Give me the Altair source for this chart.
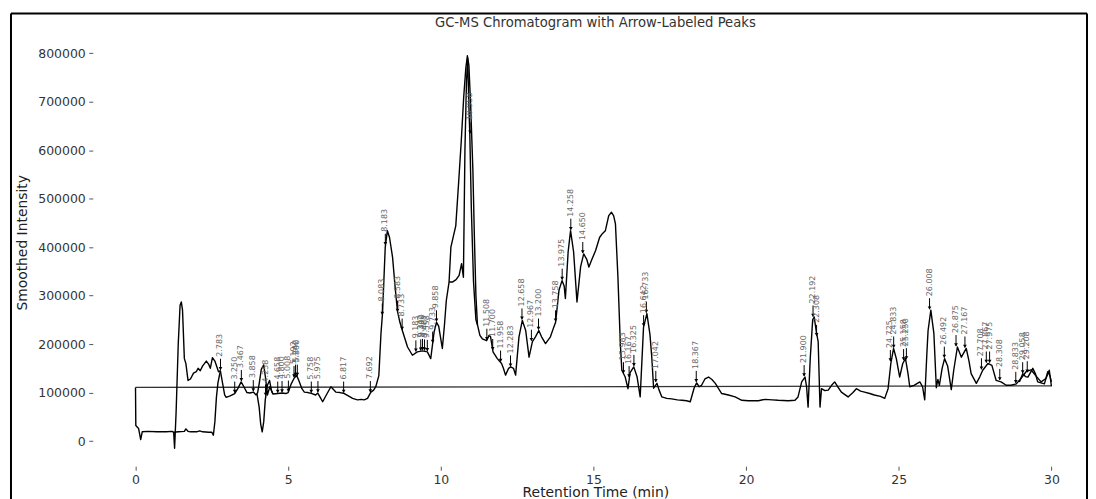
import altair as alt
import pandas as pd

# ---------------- data ----------------
main_t = [0.00, 0.01, 0.10, 0.17, 0.22, 0.40, 0.70, 1.00, 1.20, 1.25, 1.28, 1.33, 1.40, 1.46, 1.50,
          1.54, 1.60, 1.65, 1.72, 1.80, 1.90, 1.99, 2.05, 2.12, 2.20, 2.32, 2.40, 2.45, 2.52, 2.60,
          2.68, 2.72, 2.78, 2.85, 2.92, 2.97, 3.10, 3.25, 3.35, 3.46, 3.55, 3.65, 3.75, 3.86, 3.95,
          4.00, 4.05, 4.12, 4.20, 4.26, 4.32, 4.40, 4.50, 4.66, 4.80, 4.92, 5.00, 5.10, 5.20, 5.28,
          5.35, 5.45, 5.53, 5.65, 5.78, 5.90, 5.97, 6.05, 6.13, 6.25, 6.40, 6.56, 6.70, 6.84, 7.00,
          7.11, 7.27, 7.40, 7.49, 7.60, 7.70, 7.80, 7.87, 7.97, 8.04, 8.09, 8.18, 8.25, 8.32, 8.42,
          8.50, 8.58, 8.66, 8.75, 8.91, 9.07, 9.23, 9.40, 9.56, 9.67, 9.78, 9.86, 9.93, 10.05, 10.12,
          10.18, 10.27, 10.33, 10.42, 10.49, 10.58, 10.67, 10.75, 10.82, 10.87, 10.92, 10.98, 11.05,
          11.10, 11.15, 11.20, 11.28, 11.36, 11.50, 11.58, 11.63, 11.71, 11.85, 11.99, 12.05, 12.12,
          12.22, 12.29, 12.38, 12.45, 12.56, 12.67, 12.78, 12.89, 13.00, 13.10, 13.21, 13.30, 13.43,
          13.59, 13.70, 13.76, 13.87, 13.97, 14.04, 14.08, 14.17, 14.25, 14.35, 14.46, 14.58, 14.68,
          14.78, 14.85, 14.95, 15.07, 15.20, 15.28, 15.39, 15.50, 15.59, 15.66, 15.72, 15.80, 15.88,
          15.93, 16.04, 16.13, 16.20, 16.32, 16.43, 16.53, 16.64, 16.75, 16.85, 16.91, 16.97, 17.08,
          17.15, 17.24, 17.40, 17.56, 17.75, 17.90, 18.05, 18.17, 18.30, 18.38, 18.46, 18.54, 18.65,
          18.77, 18.88, 18.99, 19.20, 19.42, 19.64, 19.86, 20.07, 20.40, 20.62, 20.85, 21.05, 21.38,
          21.60, 21.70, 21.82, 21.93, 21.98, 22.03, 22.10, 22.18, 22.23, 22.30, 22.36, 22.42, 22.47,
          22.58, 22.69, 22.80, 22.90, 23.00, 23.12, 23.34, 23.50, 23.61, 23.75, 23.88, 24.05, 24.20,
          24.40, 24.54, 24.65, 24.74, 24.83, 24.92, 25.03, 25.13, 25.22, 25.30, 25.36, 25.50, 25.69,
          25.78, 25.85, 25.92, 25.96, 26.05, 26.15, 26.23, 26.28, 26.33, 26.42, 26.50, 26.60, 26.72,
          26.80, 26.92, 27.05, 27.21, 27.30, 27.37, 27.54, 27.65, 27.75, 27.92, 28.05, 28.19, 28.35,
          28.52, 28.68, 28.85, 29.00, 29.17, 29.33, 29.50, 29.66, 29.82, 29.93, 30.00]
main_i = [110500, 32000, 26000, 3000, 19000, 20000, 19000, 19000, 20000, 18000, -15000, 60000, 200000, 280000, 287000,
          270000, 170000, 160000, 125000, 128000, 140000, 143000, 150000, 145000, 155000, 165000, 158000, 150000, 172000, 165000,
          150000, 143000, 145000, 120000, 95000, 90000, 93000, 98000, 108000, 122000, 112000, 100000, 99000, 101000, 95000,
          100000, 118000, 148000, 157000, 130000, 95000, 112000, 97000, 98000, 99000, 98000, 100000, 118000, 130000, 135000,
          125000, 108000, 101000, 100000, 98000, 95000, 99000, 90000, 81000, 95000, 112000, 101000, 100000, 98000, 92000,
          88000, 85000, 86000, 85000, 88000, 100000, 105000, 112000, 135000, 222000, 263000, 400000, 434000, 420000, 379000,
          320000, 268000, 245000, 226000, 194000, 177000, 184000, 186000, 184000, 170000, 225000, 245000, 237000, 191000, 240000,
          290000, 328000, 400000, 425000, 444000, 530000, 619000, 710000, 770000, 795000, 775000, 688000, 560000,
          420000, 300000, 240000, 218000, 211000, 207000, 218000, 215000, 184000, 170000, 160000, 150000, 136000,
          150000, 153000, 150000, 136000, 215000, 249000, 228000, 173000, 205000, 215000, 228000, 215000, 201000,
          215000, 235000, 245000, 311000, 331000, 320000, 294000, 390000, 434000, 390000, 287000, 360000, 386000,
          375000, 359000, 375000, 393000, 420000, 427000, 434000, 465000, 472000, 465000, 448000, 340000, 200000,
          146000, 132000, 108000, 141000, 153000, 132000, 91000, 235000, 263000, 220000, 173000, 109000, 119000,
          105000, 91000, 88000, 87000, 85000, 84000, 83000, 81000, 110000, 120000, 112000, 115000, 128000,
          132000, 127000, 119000, 98000, 95000, 91000, 84000, 83000, 83000, 86000, 85000, 84000, 83000,
          84000, 91000, 122000, 132000, 112000, 70000, 170000, 250000, 256000, 225000, 205000, 70000, 108000,
          104000, 105000, 115000, 122000, 112000, 101000, 91000, 100000, 108000, 103000, 101000, 98000, 95000,
          92000, 88000, 108000, 160000, 191000, 170000, 132000, 160000, 170000, 140000, 112000, 115000, 122000,
          112000, 85000, 180000, 228000, 270000, 222000, 110000, 127000, 115000, 150000, 170000, 155000, 106000,
          146000, 194000, 173000, 191000, 165000, 139000, 119000, 132000, 146000, 160000, 156000, 125000, 122000,
          115000, 115000, 118000, 129000, 143000, 147000, 134000, 122000, 129000, 146000, 113000]

# second trace where it departs from the first
low_t = [1.25, 1.40, 1.60, 1.65, 1.72, 1.80, 2.00, 2.10, 2.20, 2.40, 2.50, 2.55, 2.60, 2.65, 2.70, 2.78]
low_i = [18000, 19000, 20000, 25000, 20000, 19000, 19000, 21000, 19000, 18000, 18000, 12000, 40000, 90000, 120000, 145000]

dip_t = [3.98, 4.05, 4.10, 4.15, 4.20, 4.25, 4.32, 4.39, 4.45, 4.50]
dip_i = [97000, 70000, 35000, 19000, 40000, 85000, 115000, 125000, 105000, 97000]

inner_t = [10.27, 10.38, 10.50, 10.60, 10.68, 10.74, 10.79, 10.84, 10.88, 10.92, 10.95, 11.00, 11.07, 11.15, 11.20]
inner_i = [328000, 328000, 333000, 342000, 366000, 338000, 600000, 740000, 790000, 690000, 633000, 480000, 330000, 250000, 240000]

tail_t = [28.95, 29.06, 29.15, 29.23, 29.39, 29.48, 29.55, 29.66, 29.77, 29.88, 29.95, 30.00]
tail_i = [122000, 139000, 133000, 132000, 150000, 138000, 122000, 120000, 118000, 143000, 135000, 122000]

base_t = [0.0, 30.0]
base_i = [110500, 113800]

peak_t = [2.783, 3.250, 3.467, 3.858, 4.258, 4.658, 4.800, 5.008, 5.192, 5.242, 5.300, 5.758, 5.975,
          6.817, 7.692, 8.083, 8.183, 8.583, 8.733, 9.183, 9.342, 9.400, 9.467, 9.558, 9.733, 9.858,
          10.958, 11.508, 11.700, 11.958, 12.283, 12.658, 12.967, 13.200, 13.758, 13.975, 14.258,
          14.650, 15.983, 16.167, 16.325, 16.642, 16.733, 17.042, 18.367, 21.900, 22.192, 22.308,
          24.725, 24.833, 25.158, 25.250, 26.008, 26.492, 26.875, 27.167, 27.708, 27.867, 27.975,
          28.308, 28.833, 29.058, 29.208]
peak_i = [145000, 98000, 122000, 101000, 92000, 98000, 99000, 100000, 130000, 133000, 133000, 98000, 99000,
          98000, 99000, 259000, 403000, 265000, 228000, 183000, 185000, 186000, 185000, 184000, 201000, 245000,
          633000, 207000, 186000, 162000, 152000, 249000, 205000, 228000, 245000, 331000, 434000,
          386000, 138000, 130000, 153000, 235000, 263000, 120000, 120000, 132000, 255000, 215000,
          163000, 191000, 165000, 167000, 270000, 170000, 194000, 191000, 146000, 160000, 160000,
          124000, 118000, 138000, 140000]
peak_labels = [f"{t:.3f}" for t in peak_t]

x_ticks = [0, 5, 10, 15, 20, 25, 30]
y_ticks = [0, 100000, 200000, 300000, 400000, 500000, 600000, 700000, 800000]
title_text = "GC-MS Chromatogram with Arrow-Labeled Peaks"

# ---------------- tables ----------------
rows = []
for name, ts, vs in [("main", main_t, main_i), ("low", low_t, low_i), ("dip", dip_t, dip_i),
                     ("inner", inner_t, inner_i), ("tail", tail_t, tail_i)]:
    for k, (t, v) in enumerate(zip(ts, vs)):
        rows.append({"t": t, "I": v, "series": name, "k": k})
traces = pd.DataFrame(rows)
baseline = pd.DataFrame({"t": base_t, "I": base_i, "k": [0, 1]})
peaks = pd.DataFrame({"t": peak_t, "I": peak_i, "label": peak_labels})

FONT = "DejaVu Sans"
W, H = 995, 432.5
XDOM = [-1.4, 31.1]
YDOM = [-52000, 838000]

x_axis = alt.Axis(values=x_ticks, title="Retention Time (min)", titleX=504, titleY=26,
                  titleBaseline="middle", titleAlign="center", labelPadding=3)
y_axis = alt.Axis(values=y_ticks, format="d", title="Smoothed Intensity", titleX=-70, titleY=208,
                  titleAngle=270, titleBaseline="middle", titleAlign="center", labelPadding=3.5)


def X(field):
    return alt.X(field, type="quantitative", scale=alt.Scale(domain=XDOM, nice=False, zero=False), axis=x_axis)


def Y(field):
    return alt.Y(field, type="quantitative", scale=alt.Scale(domain=YDOM, nice=False, zero=False), axis=y_axis)


trace_layer = alt.Chart(traces).mark_line(color="black", strokeWidth=1.4, strokeJoin="round").encode(
    x=X("t"), y=Y("I"), detail="series:N", order="k:Q")

base_layer = alt.Chart(baseline).mark_line(color="#333333", strokeWidth=1.3).encode(
    x=X("t"), y=Y("I"), order="k:Q")

pk = alt.Chart(peaks).transform_calculate(top="datum.I + 24700", head="datum.I + 4500", tip="datum.I + 2000")

arrow_layer = pk.mark_rule(color="black", strokeWidth=1).encode(x=X("t"), y=Y("tip"), y2="top:Q")
head_layer = pk.mark_point(shape="triangle-down", filled=True, color="black", size=14, opacity=1).encode(
    x=X("t"), y=Y("head"))
text_layer = pk.mark_text(angle=270, align="left", baseline="middle", dx=14, fontSize=8, font=FONT,
                          color="#666666").encode(x=X("t"), y=Y("I"), text="label:N")

one = pd.DataFrame({"a": [0]})
title_layer = alt.Chart(one).mark_text(text=title_text, font=FONT, fontSize=13.2, color="#333333",
                                       align="center", baseline="middle").encode(
    x=alt.value(504), y=alt.value(-11.7))
frame_left = alt.Chart(one).mark_rule(color="black", strokeWidth=2).encode(
    x=alt.value(-82), y=alt.value(-21.4), y2=alt.value(471))
frame_top = alt.Chart(one).mark_rule(color="black", strokeWidth=2).encode(
    x=alt.value(-82), x2=alt.value(997), y=alt.value(-21.4))
frame_right = alt.Chart(one).mark_rule(color="black", strokeWidth=2).encode(
    x=alt.value(997), y=alt.value(-21.4), y2=alt.value(471))

chart = alt.layer(
    base_layer, trace_layer, arrow_layer, head_layer, text_layer, title_layer,
    frame_left, frame_top, frame_right
).properties(
    width=W, height=H,
    padding={"left": 2, "top": 3.3, "right": 0, "bottom": 0},
).configure_view(stroke=None).configure_axis(
    labelFont=FONT, labelFontSize=12.5, labelColor="#333333", tickColor="#555555", tickSize=4,
    domain=False, grid=False, titleFont=FONT, titleFontSize=13.9, titleFontWeight="normal",
    titleColor="#222222",
)

chart.save("out.html", embed_options={"renderer": "svg", "actions": False})
